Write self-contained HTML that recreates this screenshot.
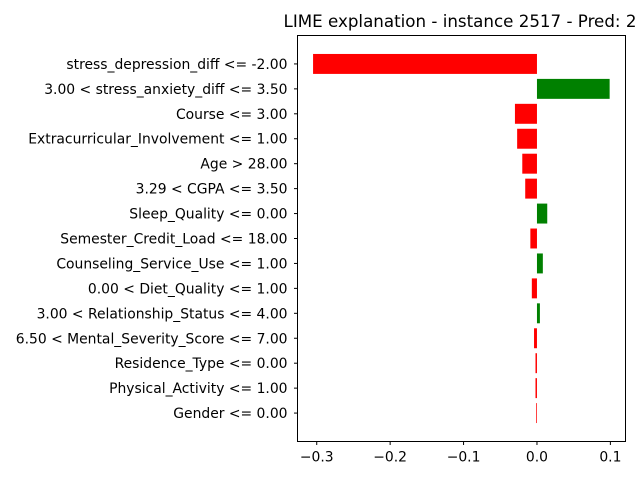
<!DOCTYPE html>
<html><head><meta charset="utf-8"><style>
body{margin:0;background:#fff;}
svg{display:block;font-family:"DejaVu Sans","Liberation Sans",sans-serif;}
</style></head><body>
<svg id="chart" width="640" height="480">
<text x="460" y="27" font-size="16.7" text-anchor="middle">LIME explanation - instance 2517 - Pred: 2</text>
<g id="bars"></g><g id="yticks"></g><g id="xticks"></g>
<rect x="297.5" y="35.5" width="328" height="406" fill="none" stroke="#000" stroke-width="1"/>
</svg>
<script>
const features=["stress_depression_diff <= -2.00","3.00 < stress_anxiety_diff <= 3.50","Course <= 3.00","Extracurricular_Involvement <= 1.00","Age > 28.00","3.29 < CGPA <= 3.50","Sleep_Quality <= 0.00","Semester_Credit_Load <= 18.00","Counseling_Service_Use <= 1.00","0.00 < Diet_Quality <= 1.00","3.00 < Relationship_Status <= 4.00","6.50 < Mental_Severity_Score <= 7.00","Residence_Type <= 0.00","Physical_Activity <= 1.00","Gender <= 0.00"];
const weights=[-0.305,0.099,-0.030,-0.027,-0.020,-0.016,0.014,-0.009,0.008,-0.007,0.004,-0.004,-0.002,-0.002,-0.001];
const xTicks=[-0.3,-0.2,-0.1,0.0,0.1];
const xTickLabels=["\u22120.3","\u22120.2","\u22120.1","0.0","0.1"];
const NS="http://www.w3.org/2000/svg";
const L=297.5,R=625.5,T=35.5,B=441.5;
const xmin=-0.3262,xmax=0.1206;
const x=v=>L+(v-xmin)/(xmax-xmin)*(R-L);
const n=features.length;
const ymin=-0.74-0.4,ymax=n-1+0.4+0.74;
const y=i=>T+(i-ymin)/(ymax-ymin)*(B-T);
const bh=0.8*(B-T)/(ymax-ymin);
const gb=document.getElementById('bars'),gy=document.getElementById('yticks'),gx=document.getElementById('xticks');
function mk(t,a){const e=document.createElementNS(NS,t);for(const k in a)e.setAttribute(k,a[k]);return e;}
features.forEach((f,i)=>{
 const w=weights[i],x0=x(0),x1=x(w),cy=y(i);
 const r=mk('rect',{x:Math.min(x0,x1),y:cy-bh/2,width:Math.abs(x1-x0),height:bh,fill:w>0?'#008000':'#ff0000'});
 
 
 gb.appendChild(r);
 const tk=mk('line',{x1:L-3.5,x2:L,y1:cy,y2:cy,stroke:'#000'});
 
 
 gy.appendChild(tk);
 const t=mk('text',{x:L-10,y:cy+5,'font-size':'13.9','text-anchor':'end'});
 t.textContent=f;
 
 
 gy.appendChild(t);
});
xTicks.forEach((v,i)=>{
 const xx=x(v);
 const tk=mk('line',{x1:xx,x2:xx,y1:B,y2:B+3.5,stroke:'#000'});
 
 
 gx.appendChild(tk);
 const t=mk('text',{x:xx,y:B+20,'font-size':'13.9','text-anchor':'middle'});
 t.textContent=xTickLabels[i];
 
 
 gx.appendChild(t);
});
</script>
</body></html>
